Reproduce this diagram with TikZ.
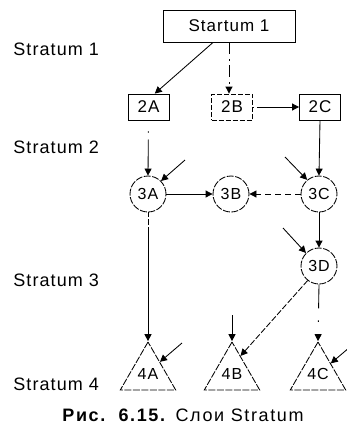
\documentclass[tikz,border=0pt]{standalone}
\usepackage{fontspec}
\setmainfont{Liberation Sans}[LetterSpace=6]
\usetikzlibrary{arrows.meta,shapes.geometric,calc}
\begin{document}
\begin{tikzpicture}[x=1pt,y=-1pt,line width=0.85pt,
  lbl/.style={font=\fontsize{18}{20}\selectfont, anchor=west, inner sep=0pt},
  box/.style={draw, minimum width=41pt, minimum height=26pt, inner sep=0pt, font=\fontsize{17}{19}\selectfont},
  broken/.style={dash pattern=on 7pt off 1.5pt},
  circ/.style={draw, circle, broken, minimum size=36pt, inner sep=0pt, font=\fontsize{16}{18}\selectfont},
  tri/.style={draw, broken, regular polygon, regular polygon sides=3, minimum size=64pt, inner sep=0pt, font=\fontsize{16}{18}\selectfont},
  arr/.style={-{Triangle[length=7pt,width=7pt]}}
]
\useasboundingbox (0,0) rectangle (347,429);

% stratum labels
\node[lbl] (L1) at (13,49) {Stratum 1};
\node[lbl] (L2) at (13,147) {Stratum 2};
\node[lbl] (L3) at (13,280) {Stratum 3};
\node[lbl] (L4) at (13,384) {Stratum 4};

% nodes
\node[box, minimum width=132pt, minimum height=32pt] (S1) at (229,26) {Startum 1};
\node[box] (A2) at (148.5,107) {2A};
\node[box, dash pattern=on 5pt off 2pt] (B2) at (232,107) {2B};
\node[box] (C2) at (320,107) {2C};

\node[circ] (A3) at (148,194) {3A};
\node[circ] (B3) at (231,194) {3B};
\node[circ] (C3) at (319,194) {3C};
\node[circ] (D3) at (319,266) {3D};

\node[tri] (A4) at (148,374) {\raisebox{-5pt}{4A}};
\node[tri] (B4) at (232,374) {\raisebox{-5pt}{4B}};
\node[tri] (C4) at (318,374) {\raisebox{-5pt}{4C}};

% connectors
\draw[arr] ($(S1.south west)!0.38!(S1.south east)$) -- ($(A2.north)!0.3!(A2.north east)$);
\draw[arr, dash pattern=on 12pt off 5pt on 2pt off 4pt] (S1.south) -- (S1.south |- B2.north);
\draw[arr, dash pattern=on 1.5pt off 3pt on 40pt] (B2.east) -- (C2.west);
\draw[arr, shorten <=11pt, dash pattern=on 1.2pt off 7pt on 60pt] (A2.south) -- (A3.north);
\draw[arr] (C2.south) -- (C3.north);
\draw[arr] (A3.east) -- (B3.west);
\draw[arr, dash pattern=on 6pt off 4pt] (C3.west) -- (B3.east);
\draw[arr] (C3.south) -- (D3.north);
\draw[arr, dash pattern=on 5pt off 2pt on 6pt off 2pt on 200pt] (A3.south) -- (A4.corner 1);
\draw[arr, dash pattern=on 6pt off 2pt] (D3.232) -- ($(B4.corner 1)!0.3!(B4.corner 3)$);
\draw[arr, dash pattern=on 24pt off 12pt on 1.5pt off 20pt] (D3.south) -- (C4.corner 1);

% free incoming arrows
\coordinate (f3A) at (185,160);
\coordinate (f3C) at (285,157);
\coordinate (f3D) at (283,228);
\coordinate (f4A) at (182,343);
\coordinate (f4B) at (232,315);
\coordinate (f4C) at (350,347);
\draw[arr] (f3A) -- (A3.45);
\draw[arr] (f3C) -- (C3.130);
\draw[arr] (f3D) -- (D3.135);
\draw[arr] (f4A) -- ($(A4.corner 1)!0.42!(A4.corner 3)$);
\draw[arr] (f4B) -- (B4.corner 1);
\draw[arr] (f4C) -- ($(C4.corner 1)!0.45!(C4.corner 3)$);

% caption
\node[font=\fontsize{18}{20}\selectfont\addfontfeature{LetterSpace=9}, inner sep=0pt] (cap) at (183,415) {\textbf{Рис.\ \ 6.15.} Слои Stratum};
\end{tikzpicture}
\end{document}
